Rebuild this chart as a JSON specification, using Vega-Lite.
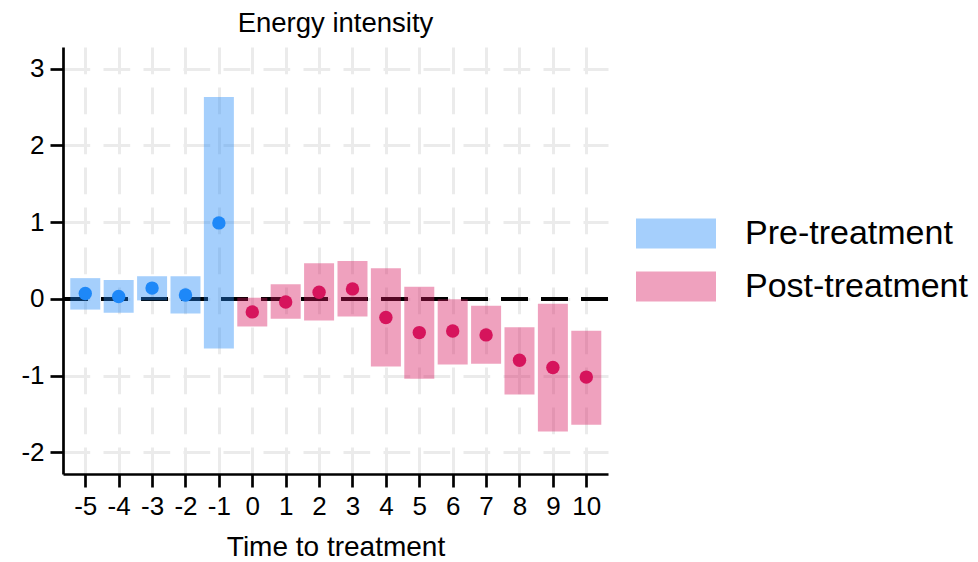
{
  "$schema": "https://vega.github.io/schema/vega-lite/v6.json",
  "width": 545,
  "height": 427,
  "autosize": {"type": "none"},
  "padding": {"left": 63, "top": 47, "right": 370, "bottom": 88},
  "title": {"text": "Energy intensity", "fontSize": 27.5, "font": "Liberation Sans", "fontWeight": "normal", "color": "black", "anchor": "middle", "baseline": "alphabetic", "offset": 15, "frame": "group", "dy": 27},
  "data": {
    "values": [
      {"t": -5, "est": 0.07, "lo": -0.14, "hi": 0.27, "period": "Pre-treatment"},
      {"t": -4, "est": 0.03, "lo": -0.18, "hi": 0.245, "period": "Pre-treatment"},
      {"t": -3, "est": 0.14, "lo": -0.02, "hi": 0.295, "period": "Pre-treatment"},
      {"t": -2, "est": 0.05, "lo": -0.19, "hi": 0.295, "period": "Pre-treatment"},
      {"t": -1, "est": 0.99, "lo": -0.648, "hi": 2.63, "period": "Pre-treatment"},
      {"t": 0, "est": -0.17, "lo": -0.36, "hi": 0.015, "period": "Post-treatment"},
      {"t": 1, "est": -0.04, "lo": -0.26, "hi": 0.19, "period": "Post-treatment"},
      {"t": 2, "est": 0.087, "lo": -0.283, "hi": 0.465, "period": "Post-treatment"},
      {"t": 3, "est": 0.13, "lo": -0.23, "hi": 0.495, "period": "Post-treatment"},
      {"t": 4, "est": -0.243, "lo": -0.883, "hi": 0.4, "period": "Post-treatment"},
      {"t": 5, "est": -0.44, "lo": -1.04, "hi": 0.157, "period": "Post-treatment"},
      {"t": 6, "est": -0.42, "lo": -0.857, "hi": -0.004, "period": "Post-treatment"},
      {"t": 7, "est": -0.47, "lo": -0.847, "hi": -0.09, "period": "Post-treatment"},
      {"t": 8, "est": -0.8, "lo": -1.247, "hi": -0.37, "period": "Post-treatment"},
      {"t": 9, "est": -0.895, "lo": -1.73, "hi": -0.065, "period": "Post-treatment"},
      {"t": 10, "est": -1.02, "lo": -1.64, "hi": -0.417, "period": "Post-treatment"}
    ]
  },
  "encoding": {
    "x": {
      "field": "t", "type": "quantitative",
      "scale": {"domain": [-5.667, 10.65], "nice": false, "zero": false, "padding": 0},
      "axis": {
        "values": [-5, -4, -3, -2, -1, 0, 1, 2, 3, 4, 5, 6, 7, 8, 9, 10],
        "labelExpr": "datum.value < 0 ? '-' + abs(datum.value) : '' + datum.value",
        "title": "Time to treatment",
        "grid": true,
        "gridDash": [26.7, 13.3],
        "gridColor": "#ebebeb",
        "gridWidth": 3,
        "domainColor": "black",
        "domainWidth": 2.7,
        "tickColor": "black",
        "tickWidth": 2.7,
        "tickSize": 13,
        "labelFont": "Liberation Sans",
        "labelFontSize": 26,
        "labelColor": "black",
        "labelPadding": 6,
        "labelFlush": false,
        "labelOverlap": false,
        "titleFont": "Liberation Sans",
        "titleFontSize": 28,
        "titleFontWeight": "normal",
        "titleColor": "black",
        "titlePadding": 14
      }
    }
  },
  "layer": [
    {
      "mark": {"type": "rule", "color": "black", "strokeWidth": 2.7, "strokeDash": [26.7, 13.3]},
      "encoding": {"y": {"datum": 0, "type": "quantitative"}, "x": null}
    },
    {
      "mark": {"type": "bar", "size": 30, "opacity": 0.4},
      "encoding": {
        "y": {
          "field": "lo", "type": "quantitative",
          "scale": {"domain": [-2.283, 3.283], "nice": false, "zero": false},
          "axis": {
            "values": [-2, -1, 0, 1, 2, 3],
            "labelExpr": "datum.value < 0 ? '-' + abs(datum.value) : '' + datum.value",
            "title": null,
            "grid": true,
            "gridDash": [26.7, 13.3],
            "gridColor": "#ebebeb",
            "gridWidth": 3,
            "domainColor": "black",
            "domainWidth": 2.7,
            "tickColor": "black",
            "tickWidth": 2.7,
            "tickSize": 13,
            "labelFont": "Liberation Sans",
            "labelFontSize": 26,
            "labelColor": "black",
            "labelPadding": 6,
            "labelFlush": false,
            "labelOverlap": false
          }
        },
        "y2": {"field": "hi"},
        "color": {
          "field": "period", "type": "nominal",
          "scale": {"domain": ["Pre-treatment", "Post-treatment"], "range": ["#1e88f8", "#d6145c"]},
          "legend": {
            "title": null,
            "orient": "none",
            "legendX": 573,
            "legendY": 160,
            "padding": 0,
            "symbolType": "M-1,-0.375H1V0.375H-1Z",
            "symbolSize": 6400,
            "symbolOpacity": 0.4,
            "symbolStrokeWidth": 0,
            "labelFontSize": 34,
            "labelFont": "Liberation Sans",
            "labelColor": "black",
            "labelOffset": 29,
            "labelLimit": 0,
            "clipHeight": 53,
            "rowPadding": 0,
            "encode": {"symbols": {"update": {"opacity": {"value": 0.4}, "fillOpacity": {"value": 1}}}}
          }
        }
      }
    },
    {
      "mark": {"type": "circle", "size": 180, "opacity": 1},
      "encoding": {
        "y": {"field": "est", "type": "quantitative"},
        "color": {"field": "period", "type": "nominal"}
      }
    }
  ],
  "config": {
    "view": {"stroke": null},
    "font": "Liberation Sans"
  }
}
